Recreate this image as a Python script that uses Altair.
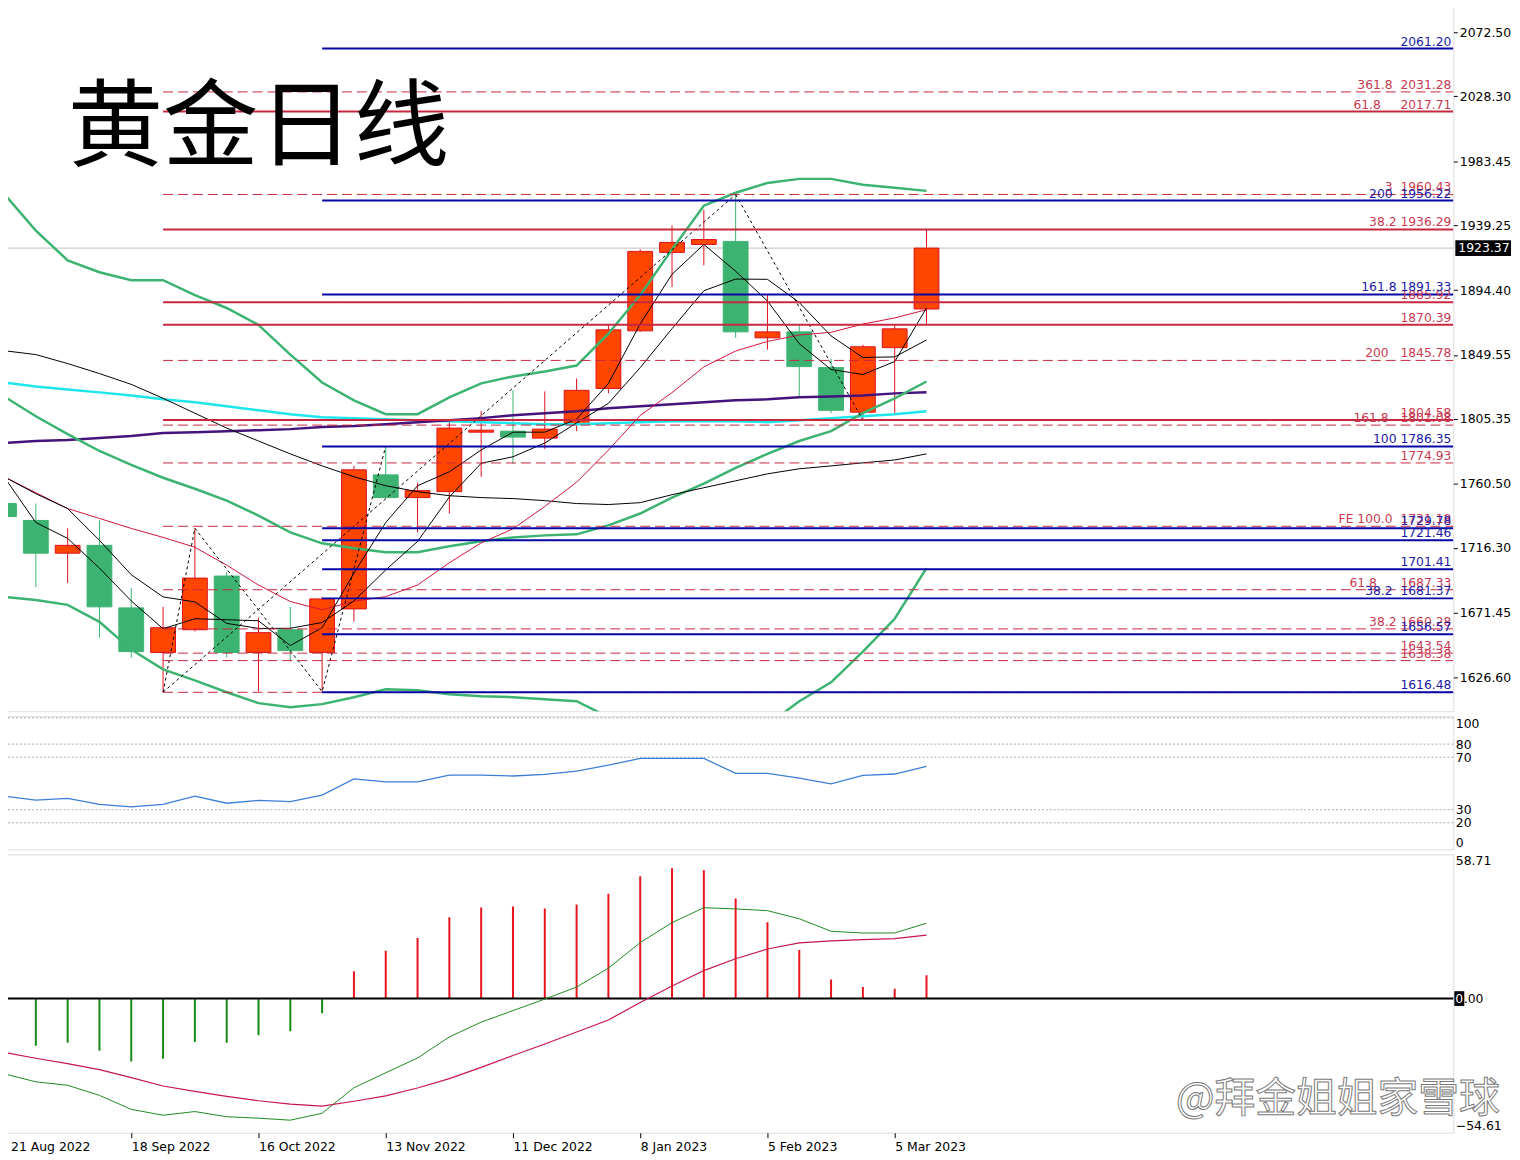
import altair as alt
import pandas as pd

# ---------------- weekly candles (index 0 = week of 21 Aug 2022) ----------------
opens = [1746.9, 1735.2, 1712.6, 1718.0, 1674.8, 1644.0, 1659.7, 1696.8, 1644.0, 1659.7,
         1644.0, 1674.1, 1766.7, 1751.0, 1755.1, 1796.2, 1796.9, 1792.1, 1801.7, 1826.4,
         1866.2, 1920.4, 1925.9, 1928.0, 1861.4, 1865.5, 1840.8, 1810.0, 1854.6, 1881.3]
highs = [1764.0, 1746.9, 1729.7, 1735.2, 1688.5, 1675.5, 1729.8, 1699.5, 1668.0, 1675.5,
         1682.5, 1772.9, 1786.6, 1761.3, 1803.8, 1810.7, 1825.1, 1824.4, 1833.3, 1871.0,
         1922.5, 1938.9, 1949.9, 1960.4, 1890.9, 1870.3, 1847.0, 1856.6, 1870.3, 1936.3]
lows = [1728.3, 1689.2, 1692.0, 1654.2, 1640.5, 1616.5, 1658.5, 1640.5, 1617.0, 1637.8,
        1617.0, 1665.2, 1750.3, 1727.0, 1740.0, 1765.4, 1774.3, 1784.6, 1796.9, 1823.0,
        1865.5, 1896.4, 1911.5, 1861.4, 1853.2, 1820.3, 1809.3, 1804.6, 1809.3, 1871.0]
closes = [1737.9, 1712.6, 1718.0, 1675.5, 1644.6, 1661.1, 1695.4, 1644.0, 1657.7, 1645.3,
          1681.0, 1770.2, 1751.0, 1755.8, 1799.0, 1797.6, 1792.8, 1798.3, 1825.1, 1866.9,
          1921.1, 1927.3, 1929.3, 1865.5, 1865.5, 1841.5, 1811.3, 1855.2, 1867.6, 1923.37]

# ---------------- overlays on the price panel ----------------
bb_upper = [1960.9, 1935.5, 1914.9, 1906.7, 1901.2, 1901.2, 1890.9, 1882.0, 1870.3, 1849.8,
            1830.5, 1818.2, 1808.6, 1808.6, 1820.3, 1829.9, 1834.7, 1838.1, 1842.2, 1864.2,
            1890.9, 1922.5, 1952.7, 1961.6, 1968.4, 1971.2, 1971.2, 1967.1, 1965.0, 1962.9]
bb_mid = [1820.9, 1807.2, 1794.9, 1783.2, 1773.6, 1764.7, 1757.1, 1748.9, 1738.6, 1727.0,
          1719.4, 1716.0, 1713.2, 1713.2, 1717.4, 1720.8, 1723.5, 1724.9, 1725.6, 1731.8,
          1740.0, 1751.0, 1760.6, 1771.6, 1781.2, 1790.1, 1796.9, 1809.3, 1819.6, 1831.2]
bb_lower = [1682.4, 1680.3, 1676.9, 1665.2, 1646.0, 1632.3, 1624.7, 1616.5, 1609.0, 1606.2,
            1608.3, 1613.1, 1618.6, 1617.9, 1615.1, 1613.8, 1613.1, 1611.7, 1610.3, 1599.4,
            1589.1, 1579.5, 1570.6, 1580.8, 1593.9, 1610.3, 1623.4, 1644.6, 1667.3, 1702.3]
ma_cyan = [1830.5, 1827.8, 1825.7, 1823.7, 1821.6, 1818.9, 1816.8, 1814.1, 1811.3, 1808.6,
           1806.5, 1805.9, 1805.2, 1804.5, 1803.8, 1803.1, 1802.4, 1801.7, 1801.7, 1802.4,
           1803.1, 1803.8, 1803.8, 1803.8, 1803.1, 1804.5, 1805.9, 1807.2, 1808.6, 1810.7]
ma_purple = [1788.7, 1790.1, 1790.8, 1792.1, 1793.5, 1795.6, 1796.2, 1796.9, 1797.6, 1798.3,
             1799.7, 1800.4, 1801.7, 1803.1, 1804.5, 1805.9, 1807.9, 1809.3, 1810.7, 1812.7,
             1814.1, 1815.5, 1816.8, 1818.2, 1818.9, 1820.3, 1820.9, 1821.6, 1823.0, 1823.7]
ma_long = [1852.5, 1849.8, 1843.6, 1836.7, 1829.2, 1819.6, 1809.3, 1799.0, 1790.1, 1781.2,
           1772.9, 1765.4, 1759.2, 1755.1, 1752.3, 1751.0, 1750.3, 1748.9, 1746.9, 1746.2,
           1747.5, 1753.0, 1757.8, 1762.6, 1767.4, 1770.9, 1772.9, 1775.0, 1777.0, 1781.2]
ma_red = [1765.4, 1754.4, 1743.4, 1736.6, 1729.7, 1723.5, 1716.7, 1704.3, 1690.6, 1679.2,
          1673.5, 1679.3, 1682.6, 1690.6, 1706.0, 1719.7, 1729.4, 1744.9, 1761.6, 1783.8,
          1807.8, 1823.5, 1841.3, 1852.3, 1858.9, 1863.3, 1865.2, 1870.9, 1875.1, 1880.8]
ma_fast = [1765.4, 1733.8, 1722.8, 1702.3, 1679.6, 1660.4, 1667.3, 1666.6, 1665.9, 1648.8,
           1661.1, 1698.8, 1733.8, 1759.2, 1768.8, 1783.9, 1796.2, 1796.2, 1805.2, 1829.9,
           1871.0, 1905.3, 1925.9, 1907.4, 1886.8, 1857.3, 1839.5, 1836.0, 1845.0, 1882.0]
ma_mid = [1765.4, 1753.7, 1743.4, 1721.5, 1697.7, 1682.4, 1678.9, 1664.1, 1660.6, 1660.7,
          1664.7, 1679.6, 1701.0, 1720.7, 1751.4, 1774.7, 1779.2, 1788.7, 1802.6, 1816.1,
          1840.8, 1867.7, 1893.9, 1902.0, 1901.8, 1885.8, 1862.7, 1847.8, 1848.2, 1859.9]

# zigzag / trend lines: (group, candle index, price)
zz_group = ["a", "a", "a", "a", "b", "b", "c", "c"]
zz_idx = [5, 6, 10, 12, 5, 23, 23, 27]
zz_price = [1616.5, 1729.8, 1617.0, 1786.6, 1616.5, 1960.4, 1960.4, 1804.6]

# ---------------- fibonacci / level objects ----------------
fib_prices = [2061.20, 2031.28, 2017.71, 1960.43, 1956.22, 1936.29, 1891.33, 1885.92, 1870.39,
              1845.78, 1804.58, 1801.08, 1786.35, 1774.93, 1731.18, 1729.78, 1721.46, 1701.41,
              1687.33, 1681.37, 1660.28, 1656.57, 1643.54, 1638.38, 1616.48, 1616.48]
fib_kinds = ["blue", "rdash", "red", "rdash", "blue", "red", "blue", "red", "red",
             "rdash", "red", "rdash", "blue", "rdash", "rdash", "blue", "blue", "blue",
             "rdash", "blue", "rdash", "blue", "rdash", "rdash", "rdash", "blue"]
fib_labels = ["2061.20", "361.8\u00a0\u00a02031.28", "61.8\u00a0\u00a0\u00a0\u00a0\u00a02017.71",
              "3\u00a0\u00a01960.43", "200\u00a0\u00a01956.22", "38.2\u00a01936.29",
              "161.8\u00a01891.33", "1885.92", "1870.39", "200\u00a0\u00a0\u00a01845.78",
              "1804.58", "161.8\u00a0\u00a0\u00a01801.08", "100\u00a01786.35", "1774.93",
              "FE 100.0\u00a0\u00a01731.18", "1729.78", "1721.46", "1701.41",
              "61.8\u00a0\u00a0\u00a0\u00a0\u00a0\u00a01687.33", "38.2\u00a0\u00a01681.37",
              "38.2\u00a01660.28", "1656.57", "1643.54", "1638.38", "", "1616.48"]

price_ticks = [2072.50, 2028.30, 1983.45, 1939.25, 1894.40, 1849.55, 1805.35, 1760.50,
               1716.30, 1671.45, 1626.60]

# ---------------- RSI ----------------
rsi = [40.3, 37.3, 38.6, 34.1, 32.1, 34.1, 40.3, 34.9, 37.1, 36.1,
       41.1, 53.5, 51.2, 51.2, 56.4, 56.4, 55.7, 56.9, 59.4, 63.9,
       69.1, 69.1, 69.1, 57.7, 57.7, 54.0, 49.7, 56.2, 57.2, 63.1]
rsi_ticks = [0, 20, 30, 70, 80, 100]
rsi_levels = [100, 80, 70, 30, 20]

# ---------------- MACD-style oscillator ----------------
hist = [-17.6, -19.2, -18.0, -21.2, -25.6, -24.5, -17.7, -18.0, -14.9, -13.3,
        -6.0, 11.1, 19.5, 24.7, 33.1, 37.1, 37.5, 36.7, 38.3, 42.7,
        49.8, 53.1, 52.2, 40.7, 31.1, 19.8, 7.8, 4.7, 4.0, 9.5]
osc_green = [-30.6, -33.9, -35.3, -39.4, -45.1, -47.5, -46.0, -48.1, -48.7, -49.5,
             -46.7, -36.3, -30.2, -24.2, -15.6, -9.6, -4.9, -0.2, 4.7, 12.4,
             22.8, 30.9, 37.0, 36.5, 35.8, 32.5, 27.4, 26.7, 26.7, 30.7]
osc_red = [-21.9, -24.3, -26.5, -28.9, -32.2, -35.6, -37.8, -39.8, -41.6, -43.0,
           -43.8, -41.8, -39.6, -36.4, -32.6, -28.0, -23.2, -18.5, -13.6, -8.7,
           -1.6, 5.1, 11.4, 16.2, 20.2, 22.7, 23.5, 24.0, 24.4, 25.8]
macd_ticks = [-54.61, 0.0, 58.71]

date_idx = [0, 4, 8, 12, 16, 20, 24, 28]
date_labels = ["21 Aug 2022", "18 Sep 2022", "16 Oct 2022", "13 Nov 2022",
               "11 Dec 2022", "8 Jan 2023", "5 Feb 2023", "5 Mar 2023"]

title_text = ["黄金日线"]
watermark_text = ["@拜金姐姐家雪球"]

# ---------------- layout ----------------
W = 1460
H_MAIN, H_RSI, H_MACD = 711, 134, 280
X_DOM = [-0.0625, 45.5625]
XMAX = X_DOM[1]
FONT = "DejaVu Sans"

idx = list(range(len(closes)))
xs = alt.Scale(domain=X_DOM, nice=False, zero=False)
ys_main = alt.Scale(domain=[1603.4, 2091.7], nice=False, zero=False)
ys_rsi = alt.Scale(domain=[-0.3, 101.3], nice=False, zero=False)
ys_macd = alt.Scale(domain=[-54.61, 58.71], nice=False, zero=False)

axis_common = dict(grid=False, title=None, labelFont=FONT, labelFontSize=12.5,
                   labelColor="black", tickColor="black", domain=False)
ax_main = alt.Axis(orient="right", values=price_ticks, format=".2f", tickSize=4,
                   labelPadding=2, **axis_common)
ax_rsi = alt.Axis(orient="right", values=rsi_ticks, format="d", ticks=False,
                  labelPadding=2, labelFlush=4, **axis_common)
ax_macd = alt.Axis(orient="right", values=macd_ticks, format=".2f", ticks=False,
                   labelPadding=2, labelFlush=4, **axis_common)
# the first date label is drawn separately (it would sit on the clipped page edge)
label_array = "[''," + ",".join("'" + d + "'" for d in date_labels[1:]) + "]"
ax_x = alt.Axis(values=date_idx, labelExpr=label_array + "[round(datum.value/4)]",
                labelAlign="left", tickSize=5, labelPadding=3, labelOverlap=False,
                labelBound=False, **axis_common)


def X(field, axis=None):
    return alt.X(field, scale=xs, axis=axis, title=None)


def YM(field):
    return alt.Y(field, scale=ys_main, axis=ax_main, title=None)


def YR(field):
    return alt.Y(field, scale=ys_rsi, axis=ax_rsi, title=None)


def YC(field):
    return alt.Y(field, scale=ys_macd, axis=ax_macd, title=None)


# ---------------- price panel ----------------
cdf = pd.DataFrame({"i": idx, "o": opens, "h": highs, "l": lows, "c": closes})
cdf["dir"] = ["up" if c >= o else "down" for o, c in zip(opens, closes)]
cdf["top"] = cdf[["o", "c"]].max(axis=1)
cdf["bot"] = cdf[["o", "c"]].min(axis=1)
cdf["x0"] = cdf["i"] - 0.39
cdf["x1"] = cdf["i"] + 0.39
dir_fill = alt.Scale(domain=["up", "down"], range=["#FF4500", "#3CB371"])
dir_line = alt.Scale(domain=["up", "down"], range=["#E0101E", "#3CB371"])

cp = closes[-1]
cp_df = pd.DataFrame({"p": [cp], "hi": [cp + 5.5], "lo": [cp - 5.5], "lab": [f"{cp:.2f}"]})

cur_line = alt.Chart(cp_df).mark_rule(color="#C0C0C0", strokeWidth=1).encode(y=YM("p:Q"))

wicks = alt.Chart(cdf).mark_rule(strokeWidth=1, clip=True).encode(
    x=X("i:Q"), y=YM("l:Q"), y2="h:Q",
    color=alt.Color("dir:N", scale=dir_line, legend=None))
bodies = alt.Chart(cdf).mark_rect(strokeWidth=1, clip=True).encode(
    x=X("x0:Q"), x2="x1:Q", y=YM("bot:Q"), y2="top:Q",
    fill=alt.Fill("dir:N", scale=dir_fill, legend=None),
    stroke=alt.Stroke("dir:N", scale=dir_line, legend=None))


def line_layer(values, color, width, dash=None):
    df = pd.DataFrame({"i": idx, "v": values})
    kw = dict(color=color, strokeWidth=width, clip=True)
    if dash:
        kw["strokeDash"] = dash
    return alt.Chart(df).mark_line(**kw).encode(x=X("i:Q"), y=YM("v:Q"))


lines = [
    line_layer(ma_cyan, "#1EE6EA", 2.5),
    line_layer(ma_purple, "#45137C", 2.5),
    line_layer(bb_upper, "#3CB371", 2.5),
    line_layer(bb_mid, "#3CB371", 2.5),
    line_layer(bb_lower, "#3CB371", 2.5),
    line_layer(ma_long, "#000000", 1),
    line_layer(ma_red, "#D2143C", 1),
    line_layer(ma_mid, "#000000", 1),
    line_layer(ma_fast, "#000000", 1),
]

zz_df = pd.DataFrame({"g": zz_group, "i": zz_idx, "v": zz_price})
zigzag = alt.Chart(zz_df).mark_line(color="black", strokeWidth=1, strokeDash=[3, 3],
                                    clip=True).encode(x=X("i:Q"), y=YM("v:Q"), detail="g:N")

fdf = pd.DataFrame({"p": fib_prices, "kind": fib_kinds, "label": fib_labels})
fdf["x0"] = [5 if k != "blue" else 10 for k in fib_kinds]
fdf["x1"] = XMAX

RED_LINE, RED_TEXT, BLUE_LINE, BLUE_TEXT = "#C8283F", "#C83A52", "#0505A5", "#1A1AA5"


def fib_rule(kind, color, width, dash):
    return alt.Chart(fdf[fdf.kind == kind]).mark_rule(
        color=color, strokeWidth=width, strokeDash=dash, clip=True).encode(
        x=X("x0:Q"), x2="x1:Q", y=YM("p:Q"))


fib_rules = [fib_rule("rdash", RED_LINE, 1, [10, 5]),
             fib_rule("red", RED_LINE, 2, [1, 0]),
             fib_rule("blue", BLUE_LINE, 2, [1, 0])]


def fib_text(mask, color):
    return alt.Chart(fdf[mask]).mark_text(
        align="right", baseline="alphabetic", dx=-2, dy=-3, font=FONT, fontSize=12.4,
        color=color).encode(x=X("x1:Q"), y=YM("p:Q"), text="label:N")


fib_texts = [fib_text(fdf.kind != "blue", RED_TEXT), fib_text(fdf.kind == "blue", BLUE_TEXT)]

tag_rect = alt.Chart(cp_df).mark_rect(color="black").encode(
    x=alt.value(W + 2), x2=alt.value(W + 58), y=YM("hi:Q"), y2="lo:Q")
tag_text = alt.Chart(cp_df).mark_text(color="white", align="left", baseline="middle",
                                      font=FONT, fontSize=12.5).encode(
    x=alt.value(W + 5), y=YM("p:Q"), text="lab:N")

title = alt.Chart(pd.DataFrame({"t": title_text})).mark_text(
    font="Noto Sans CJK SC", fontSize=96, align="left", baseline="alphabetic",
    color="black").encode(x=alt.value(66), y=alt.value(155), text="t:N")

main = alt.layer(cur_line, wicks, bodies, *lines, zigzag, *fib_rules, *fib_texts,
                 tag_rect, tag_text, title).properties(width=W, height=H_MAIN)

# ---------------- RSI panel ----------------
rsi_df = pd.DataFrame({"i": idx, "v": rsi})
lv_df = pd.DataFrame({"lv": rsi_levels})
rsi_grid = alt.Chart(lv_df).mark_rule(color="#A8A8A8", strokeDash=[2, 2], strokeWidth=1).encode(
    y=YR("lv:Q"))
rsi_line = alt.Chart(rsi_df).mark_line(color="#3D7FD6", strokeWidth=1.3, clip=True).encode(
    x=X("i:Q"), y=YR("v:Q"))
rsi_panel = alt.layer(rsi_grid, rsi_line).properties(width=W, height=H_RSI)

# ---------------- oscillator panel ----------------
hdf = pd.DataFrame({"i": idx, "h": hist})
hdf["z"] = 0.0
hdf["col"] = ["#E8141E" if v >= 0 else "#168A16" for v in hist]
bars = alt.Chart(hdf).mark_rule(strokeWidth=2, clip=True).encode(
    x=X("i:Q", ax_x), y=YC("z:Q"), y2="h:Q", color=alt.Color("col:N", scale=None))
zero_df = pd.DataFrame({"z": [0.0]})
zero_line = alt.Chart(zero_df).mark_rule(color="black", strokeWidth=2).encode(y=YC("z:Q"))
g_df = pd.DataFrame({"i": idx, "v": osc_green})
r_df = pd.DataFrame({"i": idx, "v": osc_red})
g_line = alt.Chart(g_df).mark_line(color="#1F8A1F", strokeWidth=1, clip=True).encode(
    x=X("i:Q", ax_x), y=YC("v:Q"))
r_line = alt.Chart(r_df).mark_line(color="#C8154F", strokeWidth=1.2, clip=True).encode(
    x=X("i:Q", ax_x), y=YC("v:Q"))
zb = pd.DataFrame({"z": [3.0], "z2": [-3.0]})
zero_rect = alt.Chart(zb).mark_rect(color="black").encode(
    x=alt.value(W + 1), x2=alt.value(W + 11), y=YC("z:Q"), y2="z2:Q")
zero_txt = alt.Chart(pd.DataFrame({"z": [0.0], "t": ["0"]})).mark_text(
    color="white", align="left", baseline="middle", font=FONT, fontSize=12.5).encode(
    x=alt.value(W + 2), y=YC("z:Q"), text="t:N")
first_date = alt.Chart(pd.DataFrame({"t": date_labels[:1]})).mark_text(
    color="black", align="left", baseline="top", font=FONT, fontSize=12.5).encode(
    x=alt.value(9), y=alt.value(H_MACD + 8), text="t:N")
wm = alt.Chart(pd.DataFrame({"t": watermark_text})).mark_text(
    font="Noto Sans CJK SC", fontSize=41, align="left", baseline="alphabetic",
    fill="#FFFFFF", fillOpacity=0.55, stroke="#7A7A7A", strokeWidth=1).encode(
    x=alt.value(1181), y=alt.value(259), text="t:N")

macd_panel = alt.layer(bars, zero_line, g_line, r_line, zero_rect, zero_txt, first_date,
                       wm).properties(width=W, height=H_MACD)

base = alt.vconcat(main, rsi_panel, macd_panel, spacing=3).configure_view(
    stroke="black", strokeWidth=1).configure(background="white", font=FONT)

try:
    chart = base.properties(padding={"left": -8, "top": -8, "right": 0, "bottom": 0})
    chart.save("out.html", embed_options={"renderer": "svg", "actions": False})
except Exception:
    chart = base.properties(padding=0)
    chart.save("out.html", embed_options={"renderer": "svg", "actions": False})
